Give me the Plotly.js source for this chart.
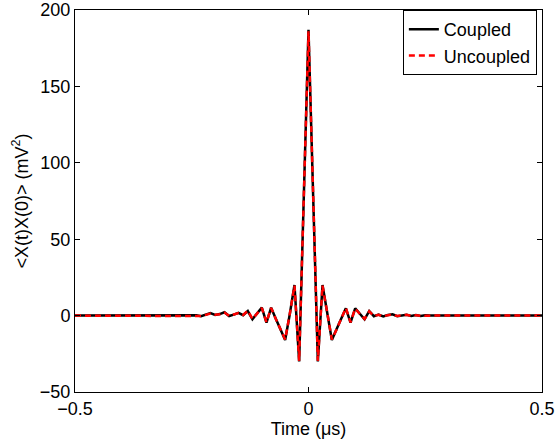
<!DOCTYPE html>
<html>
<head>
<meta charset="utf-8">
<script src="https://cdn.plot.ly/plotly-3.0.1.min.js"></script>
<style>
  html, body { margin: 0; padding: 0; background: #fff; }
  #chart { width: 559px; height: 441px; }
</style>
</head>
<body>
<div id="chart"></div>
<script>
// Time axis (µs)
const time = [
  -0.50, -0.49, -0.48, -0.47, -0.46, -0.45, -0.44, -0.43, -0.42, -0.41,
  -0.40, -0.39, -0.38, -0.37, -0.36, -0.35, -0.34, -0.33, -0.32, -0.31,
  -0.30, -0.29, -0.28, -0.27, -0.26, -0.25, -0.24, -0.23, -0.22, -0.21,
  -0.20, -0.19, -0.18, -0.17, -0.16, -0.15, -0.14, -0.13, -0.12, -0.11,
  -0.10, -0.09, -0.08, -0.07, -0.06, -0.05, -0.04, -0.03, -0.02, -0.01,
   0.00,
   0.01,  0.02,  0.03,  0.04,  0.05,  0.06,  0.07,  0.08,  0.09,  0.10,
   0.11,  0.12,  0.13,  0.14,  0.15,  0.16,  0.17,  0.18,  0.19,  0.20,
   0.21,  0.22,  0.23,  0.24,  0.25,  0.26,  0.27,  0.28,  0.29,  0.30,
   0.31,  0.32,  0.33,  0.34,  0.35,  0.36,  0.37,  0.38,  0.39,  0.40,
   0.41,  0.42,  0.43,  0.44,  0.45,  0.46,  0.47,  0.48,  0.49,  0.50
];

// <X(t)X(0)> (mV^2), coupled
const coupled = [
  0, 0, 0, 0, 0, 0, 0, 0, 0, 0,
  0, 0, 0, 0, 0, 0, 0, 0, 0, 0,
  0, 0, 0, 0, 0, 0, 0.2, -0.4, 0.6, 1.6,
  0.4, 1.0, 2.2, -0.3, 0.6, 1.8, 0.3, 3.0, -2.4, 1.5,
  5.2, -4.6, 5.2, -2, -9, -16, 1, 20, -30, 78,
  187,
  78, -30, 20, 1, -16, -9, -2, 4.8, -4.6, 4.8,
  1.2, -2.4, 3.0, -0.4, 0.6, -0.6, 0.4, 0.8, -0.4, 0.3,
  0.6, -0.3, 0.4, -0.2, 0.2, 0, 0, 0, 0, 0,
  0, 0, 0, 0, 0, 0, 0, 0, 0, 0,
  0, 0, 0, 0, 0, 0, 0, 0, 0, 0
];

// <X(t)X(0)> (mV^2), uncoupled
const uncoupled = [
  0, 0, 0, 0, 0, 0, 0, 0, 0, 0,
  0, 0, 0, 0, 0, 0, 0, 0, 0, 0,
  0, 0, 0, 0, 0, 0, 0.1, -0.3, 0.5, 1.4,
  0.5, 0.9, 2.0, -0.2, 0.7, 1.6, 0.4, 3.2, -2.2, 1.4,
  5.0, -4.4, 5.0, -2.2, -9.2, -15.6, 1.2, 19.6, -29.6, 79,
  186,
  79, -29.6, 19.6, 1.2, -15.6, -9.2, -2.2, 5.0, -4.4, 4.6,
  1.0, -2.2, 2.8, -0.3, 0.5, -0.5, 0.3, 0.6, -0.3, 0.2,
  0.5, -0.2, 0.3, -0.1, 0.1, 0, 0, 0, 0, 0,
  0, 0, 0, 0, 0, 0, 0, 0, 0, 0,
  0, 0, 0, 0, 0, 0, 0, 0, 0, 0
];

const xTicks = [-0.5, 0, 0.5];
const xTickLabels = ['\u22120.5', '0', '0.5'];
const yTicks = [-50, 0, 50, 100, 150, 200];
const yTickLabels = ['\u221250', '0', '50', '100', '150', '200'];

const FONT = 'Liberation Sans, Arial, Helvetica, sans-serif';

const traces = [
  {
    x: time, y: coupled, type: 'scatter', mode: 'lines', name: 'Coupled',
    line: { color: '#000000', width: 2.5 }
  },
  {
    x: time, y: uncoupled, type: 'scatter', mode: 'lines', name: 'Uncoupled',
    line: { color: '#ff0000', width: 2.5, dash: '6px,4px' }
  }
];

const axisCommon = {
  showline: true, linecolor: '#000', linewidth: 1, mirror: 'ticks',
  ticks: 'inside', ticklen: 5, tickwidth: 1, tickcolor: '#000',
  showgrid: false, zeroline: false,
  tickfont: { family: FONT, size: 18, color: '#000' }
};

const layout = {
  width: 559, height: 441,
  margin: { l: 75, r: 17, t: 10, b: 49 },
  paper_bgcolor: '#fff', plot_bgcolor: '#fff',
  showlegend: true,
  legend: {
    x: 0.989, xanchor: 'right', y: 1, yanchor: 'top',
    bgcolor: '#fff', bordercolor: '#000', borderwidth: 1,
    font: { family: FONT, size: 18, color: '#000' },
    tracegroupgap: 0
  },
  xaxis: Object.assign({}, axisCommon, {
    range: [-0.5, 0.5],
    tickmode: 'array', tickvals: xTicks, ticktext: xTickLabels,
    title: { text: 'Time (\u03bcs)', font: { family: FONT, size: 18, color: '#000' }, standoff: 0 }
  }),
  yaxis: Object.assign({}, axisCommon, {
    range: [-50, 200],
    tickmode: 'array', tickvals: yTicks, ticktext: yTickLabels,
    title: { text: '&lt;X(t)X(0)&gt; (mV<sup>2</sup>)', font: { family: FONT, size: 18, color: '#000' }, standoff: 6 }
  })
};

Plotly.newPlot('chart', traces, layout, { displayModeBar: false, staticPlot: true });
</script>
</body>
</html>
